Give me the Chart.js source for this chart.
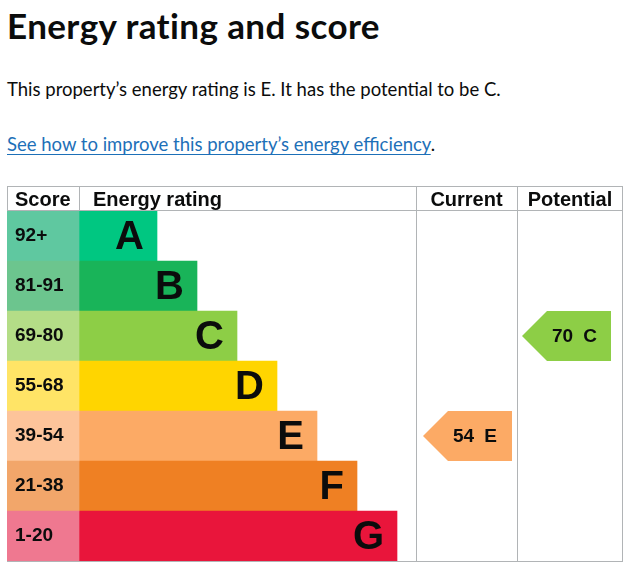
<!DOCTYPE html>
<html>
<head>
<meta charset="utf-8">
<script src="https://cdn.jsdelivr.net/npm/chart.js@4.4.1/dist/chart.umd.min.js"></script>
<style>
  body { margin: 0; background: #fff; color: #0b0c0c; font-family: Lato, "Noto Sans", sans-serif; }
  h1 { position: absolute; left: 7px; top: 5px; margin: 0; font-size: 35px; letter-spacing: 0.4px; line-height: 40px; font-weight: 700; }
  p { position: absolute; left: 7px; margin: 0; font-size: 18.5px; line-height: 24px; }
  #intro { top: 77px; }
  #improve { top: 132px; }
  a { color: #1d70b8; text-decoration: underline; text-underline-offset: 3px; text-decoration-thickness: 1px; }
  #wrap { position: absolute; left: 7px; top: 186px; width: 617px; height: 376px; }
</style>
</head>
<body>
<h1>Energy rating and score</h1>
<p id="intro">This property’s energy rating is E. It has the potential to be C.</p>
<p id="improve"><a href="#">See how to improve this property’s energy efficiency</a>.</p>
<div id="wrap"><canvas id="epc"></canvas></div>

<script>
const ratings = ["A", "B", "C", "D", "E", "F", "G"]
const scoreRanges = ["92+", "81-91", "69-80", "55-68", "39-54", "21-38", "1-20"]
const bandMinScore = [92, 81, 69, 55, 39, 21, 1]
const bandSteps = [1, 2, 3, 4, 5, 6, 7]
const bandColors = ["#00c781", "#19b459", "#8dce46", "#ffd500", "#fcaa65", "#ef8023", "#e9153b"]
const scoreColors = ["#5fc8a0", "#6cc58e", "#b4dd87", "#ffe466", "#fdc49a", "#f2a66a", "#ef7890"]
const currentScore = 54
const potentialScore = 70

// layout in canvas px (x scale runs 0..616)
const WIDTH = 616
const SCORE_W = 72
const BAND_BASE = 38
const BAND_STEP = 40
const CURRENT_COL = [409, 510]
const POTENTIAL_COL = [510, 616]
const GRID = "#b1b4b6"
const INK = "#0b0c0c"

function bandIndex(score) {
  return bandMinScore.findIndex(min => score >= min)
}

const curIdx = bandIndex(currentScore)
const potIdx = bandIndex(potentialScore)

const epcPlugin = {
  id: "epcTable",
  afterDatasetsDraw(chart) {
    const ctx = chart.ctx
    const area = chart.chartArea
    ctx.save()

    // score labels
    const scoreMeta = chart.getDatasetMeta(0)
    ctx.fillStyle = INK
    ctx.textBaseline = "middle"
    ctx.textAlign = "left"
    ctx.font = "bold 19px 'Liberation Sans', Arial, sans-serif"
    scoreMeta.data.forEach((el, i) => ctx.fillText(scoreRanges[i], 8, el.y))

    // band letters
    const bandMeta = chart.getDatasetMeta(1)
    ctx.textAlign = "right"
    ctx.font = "bold 40px 'Liberation Sans', Arial, sans-serif"
    bandMeta.data.forEach((el, i) => ctx.fillText(ratings[i], el.x - 13, el.y + 2))

    // current / potential arrows
    const arrows = [
      { meta: chart.getDatasetMeta(2), idx: curIdx, score: currentScore },
      { meta: chart.getDatasetMeta(3), idx: potIdx, score: potentialScore }
    ]
    arrows.forEach(a => {
      const el = a.meta.data[a.idx]
      if (!el) return
      const top = el.y - el.height / 2
      const bottom = el.y + el.height / 2
      const left = el.base
      const body = left + el.height / 2
      ctx.fillStyle = bandColors[a.idx]
      ctx.beginPath()
      ctx.moveTo(left, el.y)
      ctx.lineTo(body, top)
      ctx.lineTo(el.x, top)
      ctx.lineTo(el.x, bottom)
      ctx.lineTo(body, bottom)
      ctx.closePath()
      ctx.fill()

      ctx.fillStyle = INK
      ctx.textAlign = "left"
      ctx.font = "bold 19px 'Liberation Sans', Arial, sans-serif"
      const s = String(a.score)
      ctx.fillText(s, body + 5, el.y + 1)
      const w = ctx.measureText(s).width
      ctx.fillText(ratings[a.idx], body + 5 + w + 10, el.y + 1)
    })

    // headers
    ctx.font = "bold 20px 'Liberation Sans', Arial, sans-serif"
    ctx.textAlign = "left"
    ctx.fillText("Score", 8, 14)
    ctx.fillText("Energy rating", 86, 14)
    ctx.textAlign = "center"
    ctx.fillText("Current", (CURRENT_COL[0] + CURRENT_COL[1]) / 2, 14)
    ctx.fillText("Potential", (POTENTIAL_COL[0] + POTENTIAL_COL[1]) / 2, 14)

    // grid lines
    ctx.strokeStyle = GRID
    ctx.lineWidth = 1
    ctx.beginPath()
    ctx.moveTo(0, 0.5); ctx.lineTo(WIDTH, 0.5)
    ctx.moveTo(0, area.top - 0.5); ctx.lineTo(WIDTH, area.top - 0.5)
    ctx.moveTo(0, area.bottom + 0.5); ctx.lineTo(WIDTH, area.bottom + 0.5)
    ctx.moveTo(0.5, 0); ctx.lineTo(0.5, area.top)
    ctx.moveTo(SCORE_W + 0.5, 0); ctx.lineTo(SCORE_W + 0.5, area.top)
    ;[CURRENT_COL[0], POTENTIAL_COL[0], WIDTH - 1].forEach(x => {
      ctx.moveTo(x + 0.5, 0); ctx.lineTo(x + 0.5, area.bottom + 1)
    })
    ctx.stroke()
    ctx.restore()
  }
}

new Chart(document.getElementById("epc"), {
  type: "bar",
  data: {
    labels: ratings,
    datasets: [
      {
        label: "Score",
        data: ratings.map(() => [0, SCORE_W]),
        backgroundColor: scoreColors
      },
      {
        label: "Energy rating",
        data: bandSteps.map(s => [SCORE_W, SCORE_W + BAND_BASE + BAND_STEP * s]),
        backgroundColor: bandColors
      },
      {
        label: "Current",
        data: ratings.map((r, i) => i === curIdx ? [CURRENT_COL[0] + 7, CURRENT_COL[1] - 5] : null),
        backgroundColor: "rgba(0,0,0,0)"
      },
      {
        label: "Potential",
        data: ratings.map((r, i) => i === potIdx ? [POTENTIAL_COL[0] + 5, POTENTIAL_COL[1] - 12] : null),
        backgroundColor: "rgba(0,0,0,0)"
      }
    ]
  },
  options: {
    indexAxis: "y",
    responsive: true,
    maintainAspectRatio: false,
    animation: false,
    layout: { padding: { top: 25, right: 1, bottom: 1, left: 0 } },
    datasets: {
      bar: { grouped: false, barPercentage: 1, categoryPercentage: 1, borderWidth: 0 }
    },
    scales: {
      x: { type: "linear", min: 0, max: WIDTH, display: false },
      y: { type: "category", display: false }
    },
    plugins: {
      legend: { display: false },
      tooltip: { enabled: false }
    }
  },
  plugins: [epcPlugin]
})
</script>
</body>
</html>
